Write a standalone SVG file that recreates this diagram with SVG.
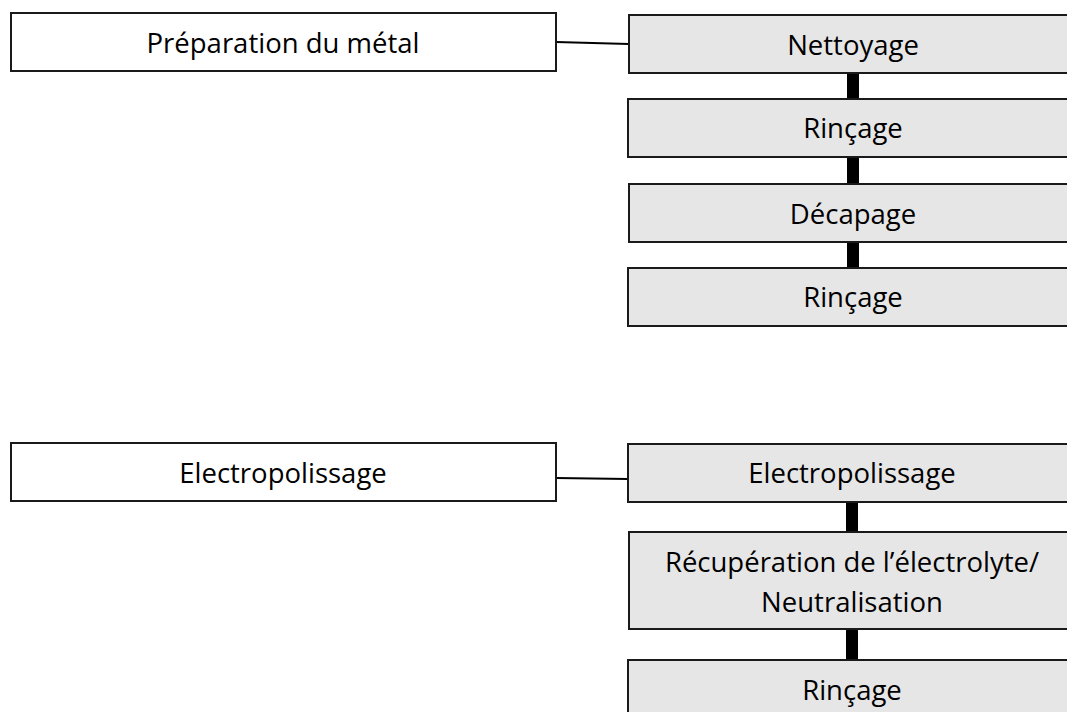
<svg xmlns="http://www.w3.org/2000/svg" width="1067" height="712" viewBox="0 0 1067 712">
<style>
.box{fill:#ffffff;stroke:#1a1a1a;stroke-width:2}
.step{fill:#e6e6e6;stroke:#1a1a1a;stroke-width:2}
.lbl{font-family:"Open Sans","Liberation Sans",sans-serif;font-size:27.5px;fill:#000;text-anchor:middle}
.thin{stroke:#000;stroke-width:2;fill:none}
.bar{stroke:#000;stroke-width:12;fill:none}
</style>
<rect width="1067" height="712" fill="#ffffff"/>
<g id="connectors">
<line class="thin" x1="556" y1="42" x2="629" y2="44"/>
<line class="bar" x1="853" y1="73" x2="853" y2="99"/>
<line class="bar" x1="853" y1="157" x2="853" y2="184"/>
<line class="bar" x1="853" y1="242" x2="853" y2="268"/>
<line class="thin" x1="556" y1="478" x2="628" y2="479"/>
<line class="bar" x1="852" y1="502" x2="852" y2="532"/>
<line class="bar" x1="852" y1="629" x2="852" y2="660"/>
</g>
<g id="prep">
<rect class="box" x="11" y="13" width="545" height="58"/>
<text class="lbl" x="283" y="53">Préparation du métal</text>
</g>
<g id="nettoyage">
<rect class="step" x="629" y="15" width="460" height="58"/>
<text class="lbl" x="853" y="55">Nettoyage</text>
</g>
<g id="rincage1">
<rect class="step" x="628" y="99" width="460" height="58"/>
<text class="lbl" x="853" y="138">Rinçage</text>
</g>
<g id="decapage">
<rect class="step" x="629" y="184" width="460" height="58"/>
<text class="lbl" x="853" y="224">Décapage</text>
</g>
<g id="rincage2">
<rect class="step" x="628" y="268" width="460" height="58"/>
<text class="lbl" x="853" y="307">Rinçage</text>
</g>
<g id="electro-group">
<rect class="box" x="11" y="443" width="545" height="58"/>
<text class="lbl" x="283" y="483">Electropolissage</text>
</g>
<g id="electropolissage">
<rect class="step" x="628" y="444" width="460" height="58"/>
<text class="lbl" x="852" y="483">Electropolissage</text>
</g>
<g id="recuperation">
<rect class="step" x="629" y="532" width="460" height="97"/>
<text class="lbl" x="852" y="572">Récupération de l’électrolyte/</text>
<text class="lbl" x="852" y="612">Neutralisation</text>
</g>
<g id="rincage3">
<rect class="step" x="628" y="660" width="460" height="70"/>
<text class="lbl" x="852" y="700">Rinçage</text>
</g>
</svg>
